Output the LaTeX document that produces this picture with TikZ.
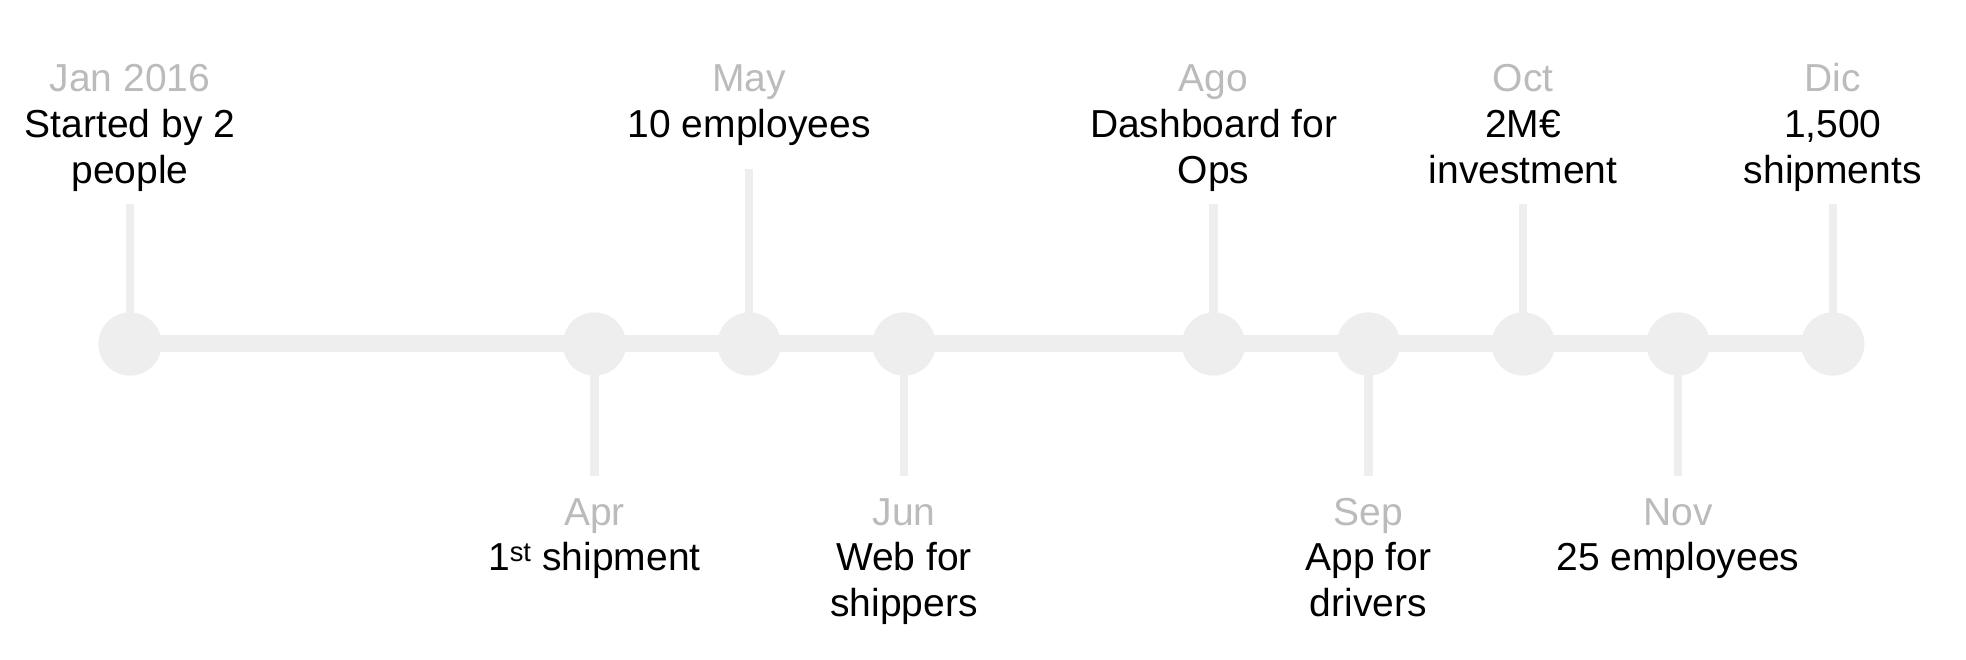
\documentclass[tikz,border=0pt]{standalone}
\usepackage{fontspec}
\setmainfont{Liberation Sans}
\definecolor{linegray}{HTML}{EEEEEE}
\definecolor{monthgray}{HTML}{BBBBBB}
\newcommand{\firstlinestrut}{\rule{0pt}{32pt}}
\newcommand{\monthname}[1]{\firstlinestrut\textcolor{monthgray}{#1}}
\tikzset{
  dot/.style={circle, fill=linegray, draw=none, minimum size=63pt, inner sep=0pt},
  axisline/.style={draw=linegray, line width=17pt},
  stem/.style={draw=linegray, line width=8.5pt},
  lbl/.style={align=center, inner sep=0pt, outer sep=0pt, anchor=north, text=black,
    font={\fontsize{39}{45.6}\selectfont}},
}
\begin{document}
\begin{tikzpicture}[x=1pt, y=-1pt]
\useasboundingbox (0,0) rectangle (1966,660);
% circles
\node[dot] (cJan) at (130,344) {};
\node[dot] (cApr) at (594.4,344) {};
\node[dot] (cMay) at (749.2,344) {};
\node[dot] (cJun) at (904,344) {};
\node[dot] (cAgo) at (1213.6,344) {};
\node[dot] (cSep) at (1368.4,344) {};
\node[dot] (cOct) at (1523.2,344) {};
\node[dot] (cNov) at (1678,344) {};
\node[dot] (cDic) at (1832.8,344) {};
% stem ends
\coordinate (eJan) at (130,204);
\coordinate (eMay) at (749.2,169);
\coordinate (eAgo) at (1213.6,204);
\coordinate (eOct) at (1523.2,204);
\coordinate (eDic) at (1832.8,204);
\coordinate (eApr) at (594.4,476);
\coordinate (eJun) at (904,476);
\coordinate (eSep) at (1368.4,476);
\coordinate (eNov) at (1678,476);
% lines
\draw[axisline] (cJan.center) -- (cDic.center);
\foreach \m in {Jan,May,Ago,Oct,Dic,Apr,Jun,Sep,Nov}
  \draw[stem] (c\m.center) -- (e\m);
% redraw circles on top
\foreach \m in {Jan,Apr,May,Jun,Ago,Sep,Oct,Nov,Dic}
  \fill[linegray] (c\m.center) circle (31.5pt);
% labels (top)
\node[lbl] (tJan) at (130,60) {\monthname{Jan 2016}\\Started by 2\\people};
\node[lbl] (tMay) at (749.2,60) {\monthname{May}\\10 employees};
\node[lbl] (tAgo) at (1213.6,60) {\monthname{Ago}\\Dashboard for\\Ops};
\node[lbl] (tOct) at (1523.2,60) {\monthname{Oct}\\2M€\\investment};
\node[lbl] (tDic) at (1832.8,60) {\monthname{Dic}\\1,500\\shipments};
% labels (bottom)
\node[lbl] (tApr) at (594.4,493) {\monthname{Apr}\\1\textsuperscript{st} shipment};
\node[lbl] (tJun) at (904,493) {\monthname{Jun}\\Web for\\shippers};
\node[lbl] (tSep) at (1368.4,493) {\monthname{Sep}\\App for\\drivers};
\node[lbl] (tNov) at (1678,493) {\monthname{Nov}\\25 employees};
\end{tikzpicture}
\end{document}
